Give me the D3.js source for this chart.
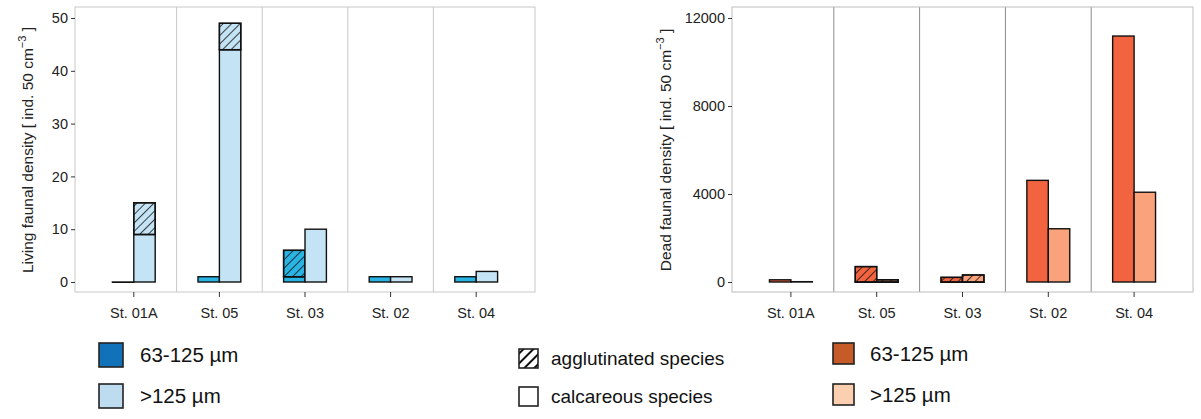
<!DOCTYPE html>
<html>
<head>
<meta charset="utf-8">
<script src="https://cdn.jsdelivr.net/npm/d3@7"></script>
<style>
  body { margin: 0; background: #fff; }
  svg { display: block; font-family: "Liberation Sans", Arial, sans-serif; }
</style>
</head>
<body>
<svg id="chart" width="1201" height="419"></svg>
<script>
// stations along the x axis
var stations = ["St. 01A", "St. 05", "St. 03", "St. 02", "St. 04"];
var sizeClasses = ["63-125", ">125"];

// living fauna [ind. 50 cm-3]
var livingSmallCalc = [0, 1, 1, 1, 1];
var livingSmallAgg = [0, 0, 5, 0, 0];
var livingLargeCalc = [9, 44, 10, 1, 2];
var livingLargeAgg = [6, 5, 0, 0, 0];

// dead fauna [ind. 50 cm-3]
var deadSmallCalc = [100, 0, 0, 4620, 11180];
var deadSmallAgg = [0, 700, 210, 0, 0];
var deadLargeCalc = [15, 0, 0, 2420, 4080];
var deadLargeAgg = [0, 100, 320, 0, 0];

var livingTicks = [0, 10, 20, 30, 40, 50];
var deadTicks = [0, 4000, 8000, 12000];

var svg = d3.select("#chart");
var defs = svg.append("defs");

// diagonal hatching used for agglutinated species
function makeHatch(id, size, width) {
    var p = defs.append("pattern")
        .attr("id", id)
        .attr("patternUnits", "userSpaceOnUse")
        .attr("width", size)
        .attr("height", size)
        .attr("patternTransform", "rotate(45)");
    p.append("line")
        .attr("x1", 0).attr("y1", 0)
        .attr("x2", 0).attr("y2", size)
        .attr("stroke", "#111")
        .attr("stroke-width", width);
}
makeHatch("hatch", 6, 1.6);
makeHatch("hatchLegend", 7, 4);

function buildRows(smallCalc, smallAgg, largeCalc, largeAgg) {
    var rows = [];
    stations.forEach(function (s, i) {
        rows.push({ station: s, size: "63-125", kind: "calc", y0: 0, y1: smallCalc[i] });
        if (smallAgg[i] > 0)
            rows.push({ station: s, size: "63-125", kind: "agg", y0: smallCalc[i], y1: smallCalc[i] + smallAgg[i] });
        rows.push({ station: s, size: ">125", kind: "calc", y0: 0, y1: largeCalc[i] });
        if (largeAgg[i] > 0)
            rows.push({ station: s, size: ">125", kind: "agg", y0: largeCalc[i], y1: largeCalc[i] + largeAgg[i] });
    });
    return rows;
}

function drawPanel(opt) {
    var g = svg.append("g");
    var x = d3.scaleBand().domain(stations).range([opt.left + 16, opt.right - 16]);
    var bw = x.bandwidth();
    var inner = d3.scaleBand().domain(sizeClasses).range([bw / 4, bw * 3 / 4]);
    var y = d3.scaleLinear().domain(opt.domain).range([282, 18]);
    var top = 7, bottom = 292;

    // panel separators
    stations.slice(1).forEach(function (s) {
        g.append("line")
            .attr("x1", x(s)).attr("x2", x(s))
            .attr("y1", top).attr("y2", bottom)
            .attr("stroke", opt.sepColor).attr("stroke-width", 1);
    });

    var rows = buildRows.apply(null, opt.data);
    var bars = g.selectAll("g.bar").data(rows).enter().append("g").attr("class", "bar");
    // zero-height bars still show as a line
    function h(d) { return Math.max(y(d.y0) - y(d.y1), 0.3); }
    bars.append("rect")
        .attr("x", function (d) { return x(d.station) + inner(d.size); })
        .attr("width", inner.bandwidth())
        .attr("y", function (d) { return y(d.y1); })
        .attr("height", h)
        .attr("fill", function (d) { return d.size == "63-125" ? opt.colSmall : opt.colLarge; })
        .attr("stroke", "#111")
        .attr("stroke-width", 1.4);
    bars.filter(function (d) { return d.kind == "agg"; })
        .append("rect")
        .attr("x", function (d) { return x(d.station) + inner(d.size); })
        .attr("width", inner.bandwidth())
        .attr("y", function (d) { return y(d.y1); })
        .attr("height", h)
        .attr("fill", "url(#hatch)")
        .attr("stroke", "#111")
        .attr("stroke-width", 1.4);

    // frame
    g.append("rect")
        .attr("x", opt.left).attr("y", top)
        .attr("width", opt.right - opt.left).attr("height", bottom - top)
        .attr("fill", "none")
        .attr("stroke", opt.frameColor).attr("stroke-width", 1);

    var yAxis = g.append("g")
        .attr("transform", "translate(" + opt.left + ",0)")
        .call(d3.axisLeft(y).tickValues(opt.ticks).tickSize(4).tickPadding(3).tickFormat(d3.format("d")));
    yAxis.select(".domain").remove();
    yAxis.selectAll("line").attr("stroke", "#333");
    yAxis.selectAll("text").attr("font-size", 14.5).attr("fill", "#222").attr("font-family", "Liberation Sans, Arial, sans-serif");

    var xAxis = g.append("g")
        .attr("transform", "translate(0," + bottom + ")")
        .call(d3.axisBottom(x).tickSize(5).tickPadding(11));
    xAxis.select(".domain").remove();
    xAxis.selectAll("line").attr("stroke", "#333");
    xAxis.selectAll("text").attr("font-size", 14.5).attr("fill", "#222").attr("font-family", "Liberation Sans, Arial, sans-serif");

    var title = g.append("text")
        .attr("transform", "translate(" + opt.titleX + ",150) rotate(-90)")
        .attr("text-anchor", "middle")
        .attr("font-size", 15.5)
        .attr("fill", "#222");
    title.append("tspan").text(opt.title + " [ ind. 50 cm");
    title.append("tspan").attr("dy", -7).attr("font-size", 11).text("\u22123");
    title.append("tspan").attr("dy", 7).text(" ]");
}

drawPanel({
    left: 75, right: 535, domain: [0, 50], ticks: livingTicks,
    data: [livingSmallCalc, livingSmallAgg, livingLargeCalc, livingLargeAgg],
    colSmall: "#29b4e4", colLarge: "#c4e4f5",
    sepColor: "#c8c8c8", frameColor: "#c8c8c8",
    title: "Living faunal density", titleX: 33
});
drawPanel({
    left: 732, right: 1193, domain: [0, 12000], ticks: deadTicks,
    data: [deadSmallCalc, deadSmallAgg, deadLargeCalc, deadLargeAgg],
    colSmall: "#f26440", colLarge: "#f9a27c",
    sepColor: "#8a8a8a", frameColor: "#bdbdbd",
    title: "Dead faunal density", titleX: 671
});

// legends
var legendItems = [
    { x: 99, y: 343, s: 24, fill: "#1172b9", label: "63-125 \u00b5m", tx: 140, fs: 20.5 },
    { x: 99, y: 384, s: 24, fill: "#bddcf0", label: ">125 \u00b5m", tx: 140, fs: 20.5 },
    { x: 519, y: 349, s: 19, fill: "url(#hatchLegend)", label: "agglutinated species", tx: 551, fs: 19 },
    { x: 519, y: 387, s: 19, fill: "#fff", label: "calcareous species", tx: 551, fs: 19 },
    { x: 833, y: 343, s: 21, fill: "#c65a28", label: "63-125 \u00b5m", tx: 870, fs: 20.5 },
    { x: 833, y: 384, s: 21, fill: "#fccfb0", label: ">125 \u00b5m", tx: 870, fs: 20.5 }
];
var leg = svg.append("g").selectAll("g").data(legendItems).enter().append("g");
leg.append("rect")
    .attr("x", function (d) { return d.x; })
    .attr("y", function (d) { return d.y; })
    .attr("width", function (d) { return d.s; })
    .attr("height", function (d) { return d.s; })
    .attr("fill", function (d) { return d.fill; })
    .attr("stroke", "#222").attr("stroke-width", 1.6);
leg.append("text")
    .attr("x", function (d) { return d.tx; })
    .attr("y", function (d) { return d.y + d.s / 2; })
    .attr("dy", "0.35em")
    .attr("font-size", function (d) { return d.fs; })
    .attr("fill", "#111")
    .text(function (d) { return d.label; });
</script>
</body>
</html>
